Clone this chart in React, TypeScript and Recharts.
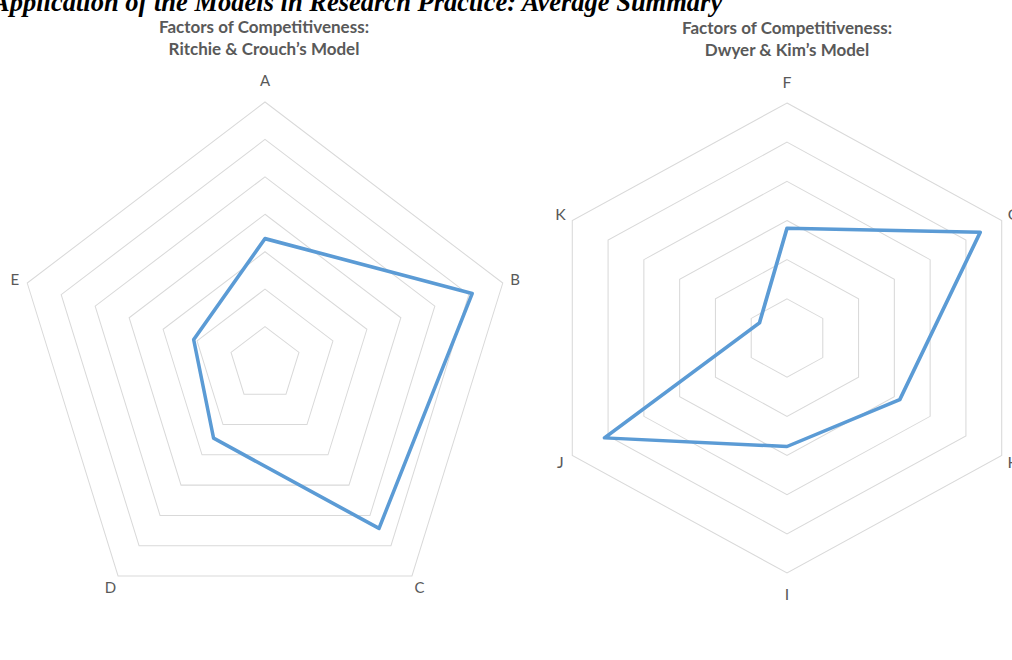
import React from 'react';
import { RadarChart, Radar, PolarGrid, PolarAngleAxis, PolarRadiusAxis } from 'recharts';

// Ritchie & Crouch (left) and Dwyer & Kim (right) averages
const leftCategories = ['A', 'B', 'C', 'D', 'E'];
const leftValues = [3.35, 6.1, 5.43, 2.45, 2.1];
const leftMax = 7;

const rightCategories = ['F', 'G', 'H', 'I', 'J', 'K'];
const rightValues = [2.8, 5.4, 3.15, 2.77, 5.1, 0.77];
const rightMax = 6;

const pageTitle = 'Application of the Models in Research Practice: Average Summary';
const leftTitle = ['Factors of Competitiveness:', 'Ritchie & Crouch\u2019s Model'];
const rightTitle = ['Factors of Competitiveness:', 'Dwyer & Kim\u2019s Model'];

const LABEL_FONT = 'Lato, "Open Sans", sans-serif';
const GREY = '#595959';
const BLUE = '#5b9bd5';

const makeTick = (cx: number, cy: number, r: number) => (props: any) => {
  const { x, y, payload } = props;
  const dx = x - cx;
  const dy = y - cy;
  const len = Math.sqrt(dx * dx + dy * dy) || 1;
  const ux = dx / len;
  const uy = dy / len;
  const d = Math.abs(ux) < 0.01 ? 21 : 13;
  return (
    <text
      x={cx + ux * (r + d)}
      y={cy + uy * (r + d)}
      textAnchor="middle"
      dominantBaseline="central"
      fill={GREY}
      fontSize={15}
      fontFamily={LABEL_FONT}
    >
      {payload.value}
    </text>
  );
};

interface SpiderProps {
  categories: string[];
  values: number[];
  max: number;
  width: number;
  height: number;
  cx: number;
  cy: number;
  radius: number;
}

const Spider: React.FC<SpiderProps> = ({ categories, values, max, width, height, cx, cy, radius }) => {
  const data = categories.map((c, i) => ({ name: c, value: values[i] }));
  return (
    <RadarChart
      width={width}
      height={height}
      cx={cx}
      cy={cy}
      outerRadius={radius}
      data={data}
      margin={{ top: 0, right: 0, bottom: 0, left: 0 }}
    >
      <PolarGrid gridType="polygon" radialLines={false} stroke="#d9d9d9" strokeWidth={1} />
      <PolarAngleAxis dataKey="name" tick={makeTick(cx, cy, radius)} tickLine={false} axisLine={false} />
      <PolarRadiusAxis domain={[0, max]} tickCount={max + 1} tick={false} axisLine={false} />
      <Radar
        dataKey="value"
        stroke={BLUE}
        strokeWidth={3.5}
        strokeLinejoin="round"
        fill="none"
        fillOpacity={0}
        dot={false}
        isAnimationActive={false}
      />
    </RadarChart>
  );
};

export default function App() {
  return (
    <div style={{ position: 'absolute', left: 0, top: 0, width: 1012, height: 660, overflow: 'hidden', background: '#fff' }}>
      <div
        style={{
          position: 'absolute', left: 4.7, top: 84.2,
          transform: 'scale(1, 1.048)', transformOrigin: '260px 280px',
        }}
      >
        <Spider categories={leftCategories} values={leftValues} max={leftMax}
          width={520} height={560} cx={260} cy={280} radius={250} />
      </div>
      <div
        style={{
          position: 'absolute', left: 507, top: 48.3,
          transform: 'scale(1.055, 1)', transformOrigin: '280px 290px',
        }}
      >
        <Spider categories={rightCategories} values={rightValues} max={rightMax}
          width={560} height={580} cx={280} cy={290} radius={235} />
      </div>
      <svg width={1012} height={660} style={{ position: 'absolute', left: 0, top: 0, pointerEvents: 'none' }}>
        <text x={-8} y={11} fontFamily='"Liberation Serif", "Times New Roman", serif'
          fontWeight="bold" fontStyle="italic" fontSize={26.5} fill="#000">
          {pageTitle}
        </text>
        {leftTitle.map((t, i) => (
          <text key={t} x={264} y={33 + i * 22} textAnchor="middle" fontFamily={LABEL_FONT}
            fontWeight="bold" fontSize={17} fill={GREY}>{t}</text>
        ))}
        {rightTitle.map((t, i) => (
          <text key={t} x={787} y={34 + i * 22} textAnchor="middle" fontFamily={LABEL_FONT}
            fontWeight="bold" fontSize={17} fill={GREY}>{t}</text>
        ))}
      </svg>
    </div>
  );
}
